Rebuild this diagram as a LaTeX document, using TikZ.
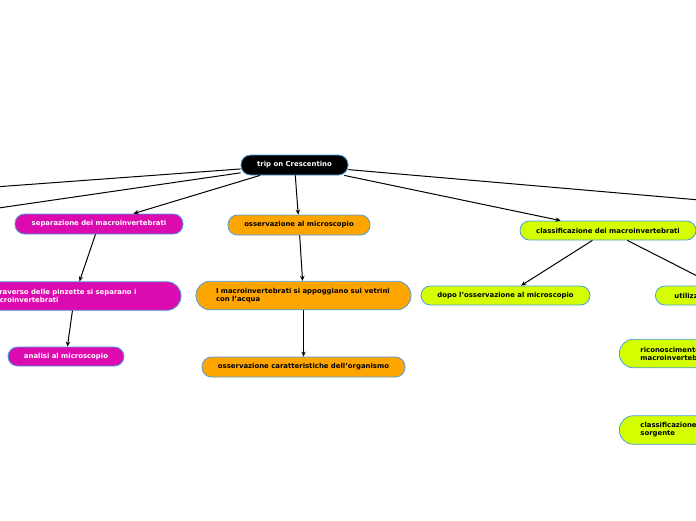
\documentclass[tikz,border=0pt]{standalone}
\usepackage{fontspec}
\setmainfont{DejaVu Sans}
\usepackage{tikz}
\usetikzlibrary{arrows.meta}
\definecolor{bordo}{HTML}{4A9FE0}
\definecolor{magenta2}{HTML}{DC0BB0}
\definecolor{arancio}{HTML}{FFA500}
\definecolor{lime2}{HTML}{D4FF00}

\begin{document}
\begin{tikzpicture}[x=1pt,y=-1pt,>={Stealth[length=5pt,width=4.5pt]},
        idea/.style={draw=bordo,line width=0.8pt,rounded corners=9.5pt,inner sep=0pt,
          minimum height=20pt,font=\fontsize{6.9}{8}\selectfont\bfseries},
        tall/.style={idea,rounded corners=14pt,minimum height=28.5pt,align=left},
        rootidea/.style={idea,fill=black,text=white},
        pink/.style={idea,fill=magenta2,text=white},
        orange/.style={idea,fill=arancio},
        lime/.style={idea,fill=lime2},
        link/.style={->,line width=1pt}]
    \useasboundingbox (0,0) rectangle (696,520);
    \clip (0,0) rectangle (696,520);

      \node[rootidea,minimum width=107pt] (trip) at (294.5,165) {trip on Crescentino};

      \node[pink,minimum width=168pt] (sep)  at (99,224) {separazione dei macroinvertebrati};
      \node[pink,tall,minimum width=213pt,text width=173pt] (pinz) at (74.5,296)
        {attraverso delle pinzette si separano i\\macroinvertebrati};
      \node[pink,minimum width=116pt,minimum height=19pt] (anal) at (66,356.5) {analisi al microscopio};

      \node[orange,minimum width=142pt] (oss) at (299,225) {osservazione al microscopio};
      \node[orange,tall,minimum width=215pt,text width=175pt] (vetr) at (303.5,295.5)
        {I macroinvertebrati si appoggiano sui vetrini\\con l'acqua};
      \node[orange,minimum width=203pt] (caratt) at (303.5,367) {osservazione caratteristiche dell'organismo};

      \node[lime,minimum width=176pt,minimum height=19pt] (class) at (608,230.5) {classificazione dei macroinvertebrati};
      \node[lime,minimum width=169pt,minimum height=19pt] (dopo) at (505.5,295.5) {dopo l'osservazione al microscopio};
      \node[lime,minimum width=160pt,minimum height=19pt,anchor=west] (util) at (655,295.5) {utilizzo della chiave dicotomica};
      \node[lime,tall,anchor=west,text width=170pt,minimum width=212pt] (ricon) at (619,353.5)
        {riconoscimento dei\\macroinvertebrati};
      \node[lime,tall,anchor=west,text width=170pt,minimum width=212pt] (sorg) at (619,430)
        {classificazione dell'acqua della\\sorgente};

      % rami che escono dal foglio
      \coordinate (ovest1) at (-150,197.6);
      \coordinate (ovest2) at (-150,229.6);
      \coordinate (est1)   at (850,213);

      \path[link] (trip) edge (ovest1)
                  (trip) edge (ovest2)
                  (trip) edge (sep)
                  (trip) edge (oss)
                  (trip) edge (class)
                  (trip) edge (est1);
      \path[link] (sep) edge (pinz)
                  (pinz) edge (anal);
      \path[link] (oss) edge (vetr)
                  (vetr) edge (caratt);
      \path[link] (class) edge (dopo)
                  (class) edge (util);
    \end{tikzpicture}
\end{document}
